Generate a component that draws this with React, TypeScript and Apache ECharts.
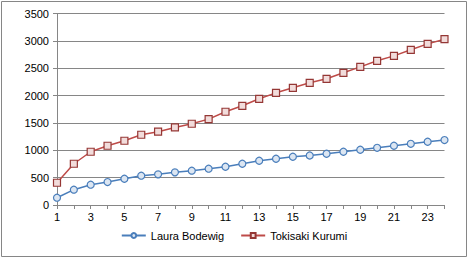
import React, { useEffect, useRef } from "react";
import * as echarts from "echarts";

const categories = ["1","2","3","4","5","6","7","8","9","10","11","12","13","14","15","16","17","18","19","20","21","22","23","24"];
const laura = [133, 280, 371, 420, 480, 535, 560, 597, 627, 663, 699, 754, 809, 845, 882, 905, 937, 973, 1010, 1046, 1083, 1119, 1156, 1187];
const tokisaki = [407, 754, 973, 1083, 1174, 1284, 1340, 1418, 1485, 1570, 1704, 1813, 1941, 2050, 2142, 2233, 2306, 2416, 2525, 2635, 2726, 2836, 2945, 3031];
const seriesNames = ["Laura Bodewig", "Tokisaki Kurumi"];

export default function App() {
  const ref = useRef<HTMLDivElement>(null);
  useEffect(() => {
    if (!ref.current) return;
    const chart = echarts.init(ref.current, null, { renderer: "svg" });
    const font = "'Liberation Sans', Arial, sans-serif";
    chart.setOption({
      animation: false,
      textStyle: { fontFamily: font },
      graphic: [
        {
          type: "rect",
          shape: { x: 1.5, y: 1.5, width: 465, height: 255 },
          style: { fill: "none", stroke: "#868686", lineWidth: 1 },
          silent: true,
        },
      ],
      grid: { left: 57, right: 23.5, top: 13.5, bottom: 53 },
      legend: {
        bottom: 12,
        left: "center",
        itemWidth: 24,
        itemHeight: 6,
        itemGap: 16,
        textStyle: { fontSize: 11, color: "#000", fontFamily: font },
        data: seriesNames,
      },
      xAxis: {
        type: "category",
        data: categories,
        boundaryGap: false,
        axisLine: { lineStyle: { color: "#868686", width: 1 } },
        axisTick: { show: true, interval: 0, length: 4, lineStyle: { color: "#868686" } },
        axisLabel: { interval: 1, color: "#000", fontSize: 11, margin: 6, fontFamily: font },
        splitLine: { show: false },
      },
      yAxis: {
        type: "value",
        min: 0,
        max: 3500,
        interval: 500,
        axisLine: { show: true, lineStyle: { color: "#868686", width: 1 } },
        axisTick: { show: true, length: 4, lineStyle: { color: "#868686" } },
        axisLabel: { color: "#000", fontSize: 11, margin: 8, fontFamily: font, formatter: (v: number) => String(v) },
        splitLine: { show: true, lineStyle: { color: "#868686", width: 1 } },
      },
      series: [
        {
          name: seriesNames[0],
          type: "line",
          data: laura,
          symbol: "circle",
          symbolSize: 7,
          lineStyle: { color: "#4A7EBB", width: 1.5 },
          itemStyle: { color: "#DCE6F2", borderColor: "#4A7EBB", borderWidth: 1.2 },
        },
        {
          name: seriesNames[1],
          type: "line",
          data: tokisaki,
          symbol: "rect",
          symbolSize: 7,
          lineStyle: { color: "#BE4B48", width: 1.5 },
          itemStyle: { color: "#F2DCDB", borderColor: "#953735", borderWidth: 1.2 },
        },
      ],
    });
    return () => chart.dispose();
  }, []);
  return (
    <div
      ref={ref}
      style={{ position: "fixed", left: 0, top: 0, width: 468, height: 258, background: "#fff" }}
    />
  );
}
